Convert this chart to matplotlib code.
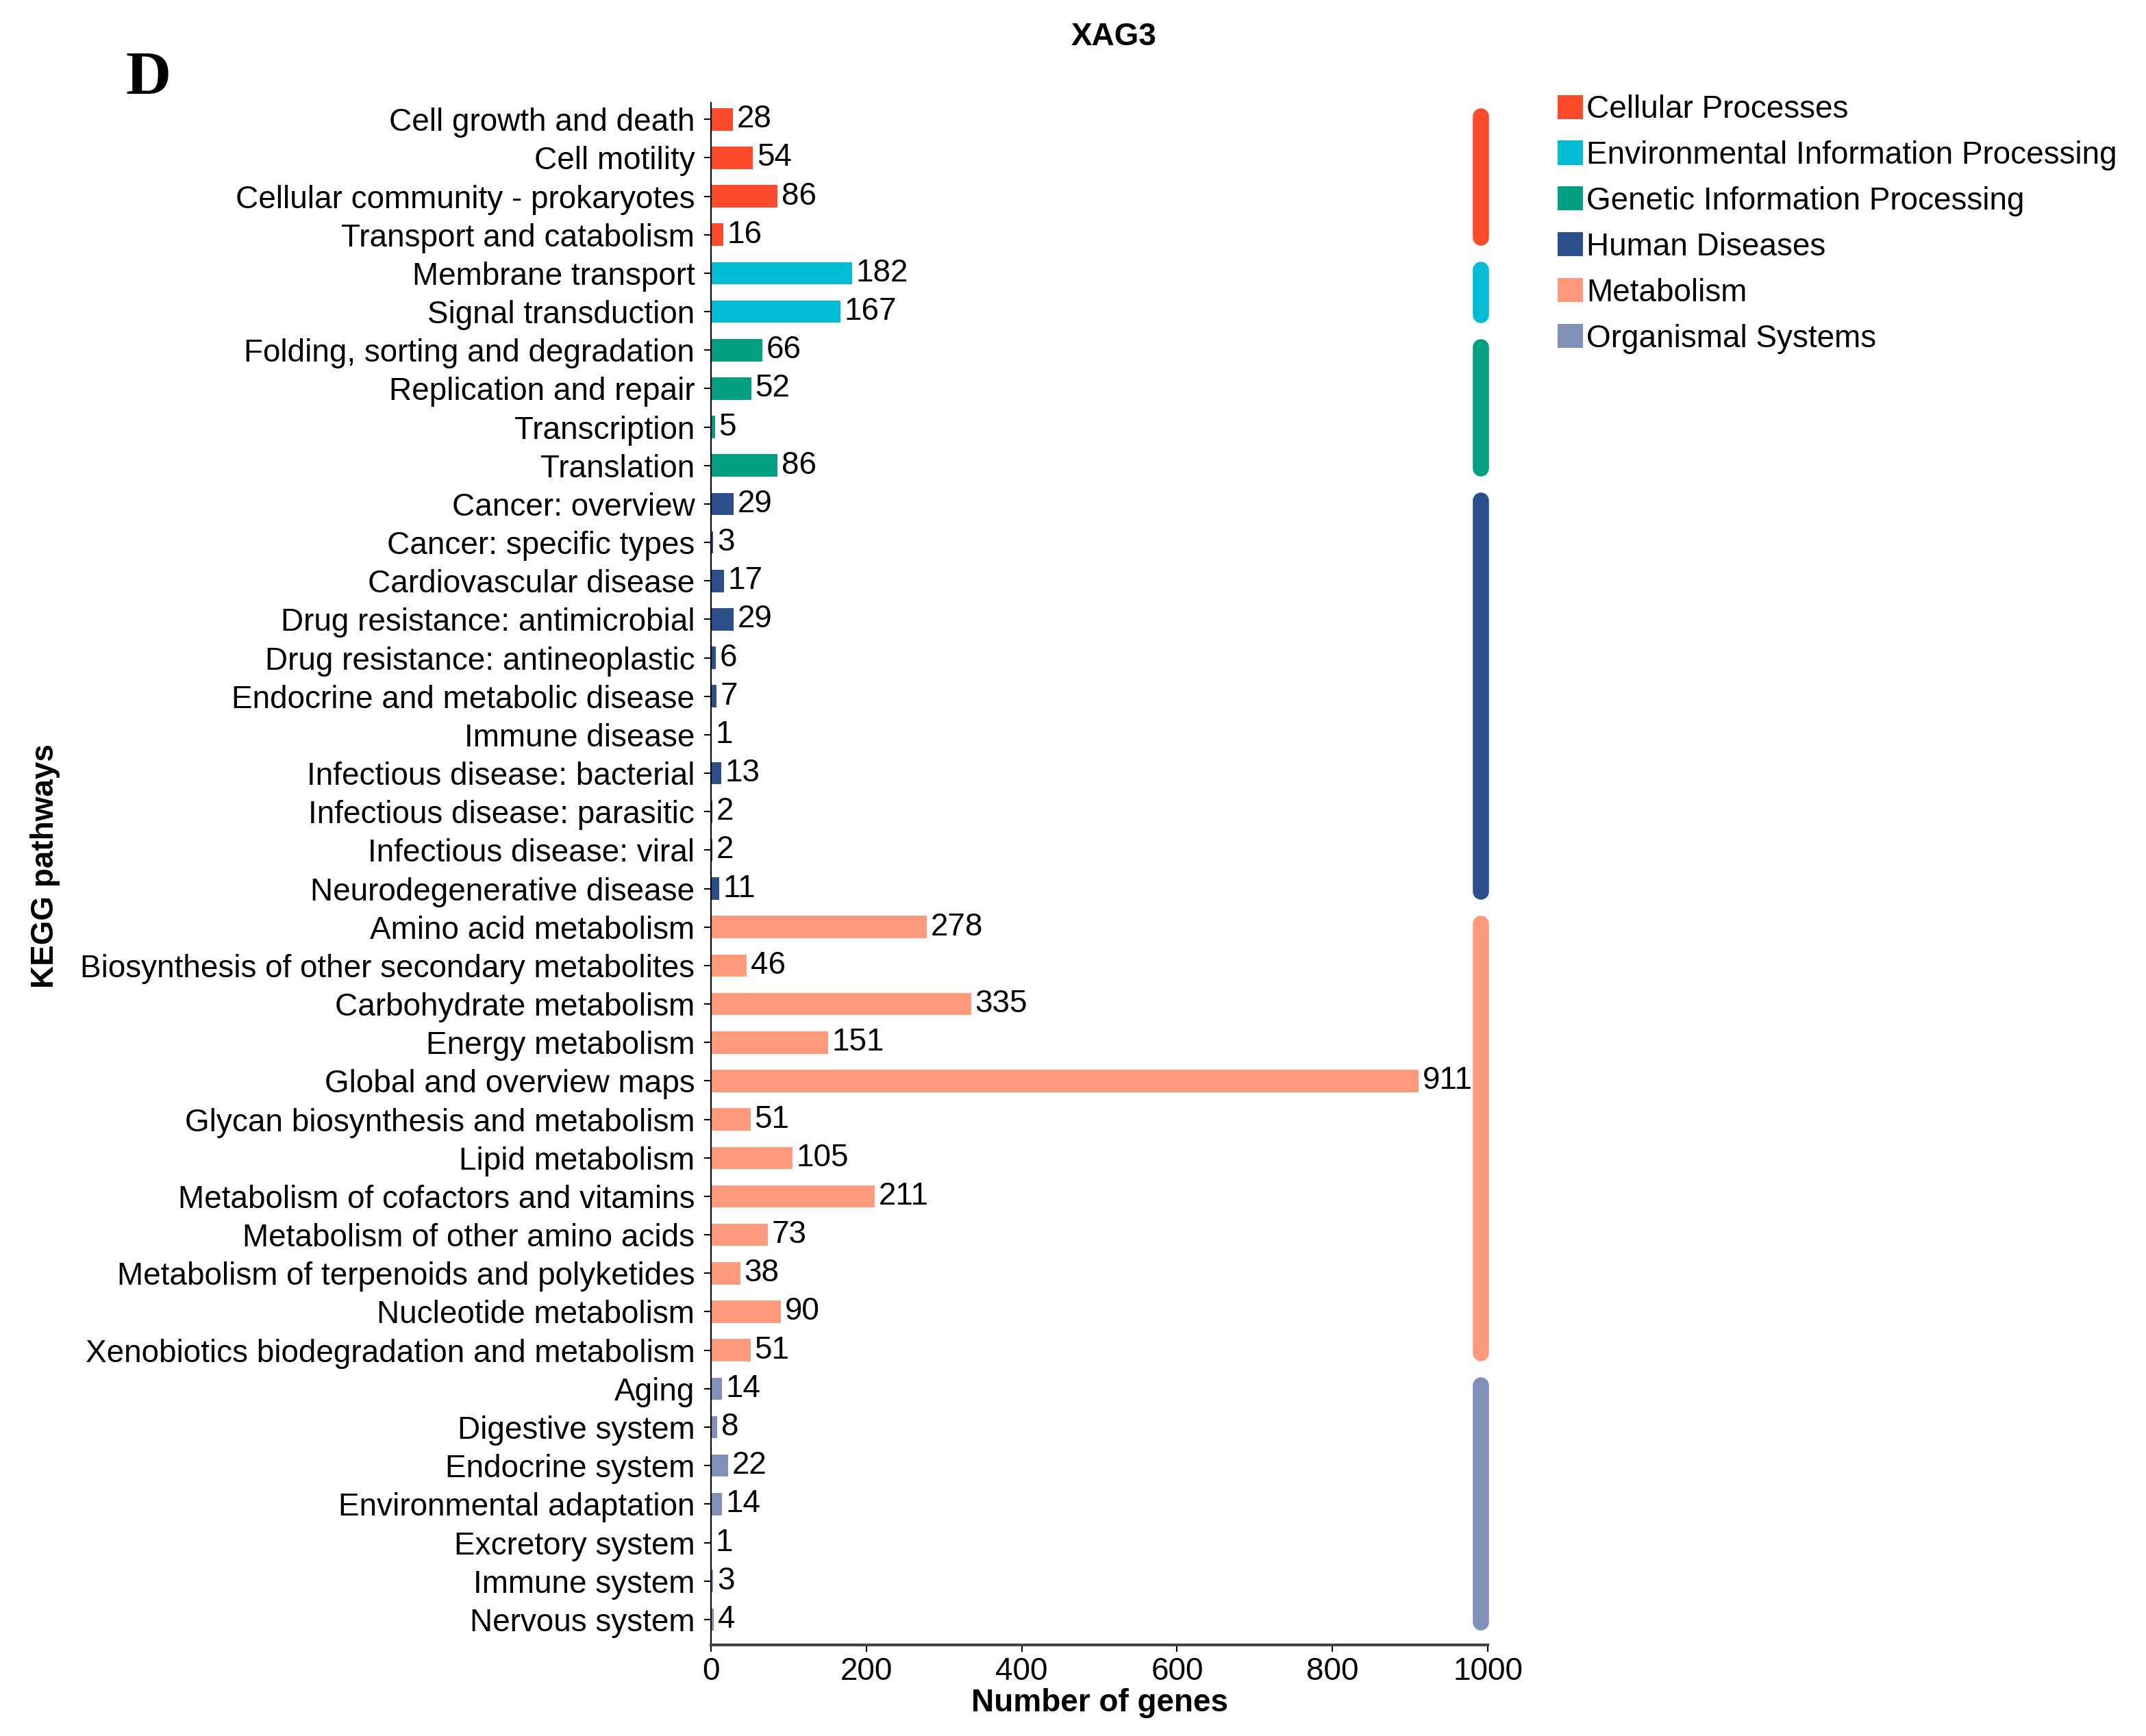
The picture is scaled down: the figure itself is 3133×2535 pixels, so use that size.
import matplotlib
matplotlib.use('Agg')
import matplotlib.pyplot as plt
from matplotlib.patches import Patch

plt.rcParams['font.family'] = ['Liberation Sans', 'DejaVu Sans']

# KEGG level-2 pathways, top to bottom
pathways = [
    'Cell growth and death', 'Cell motility', 'Cellular community - prokaryotes',
    'Transport and catabolism',
    'Membrane transport', 'Signal transduction',
    'Folding, sorting and degradation', 'Replication and repair', 'Transcription',
    'Translation',
    'Cancer: overview', 'Cancer: specific types', 'Cardiovascular disease',
    'Drug resistance: antimicrobial', 'Drug resistance: antineoplastic',
    'Endocrine and metabolic disease', 'Immune disease',
    'Infectious disease: bacterial', 'Infectious disease: parasitic',
    'Infectious disease: viral', 'Neurodegenerative disease',
    'Amino acid metabolism', 'Biosynthesis of other secondary metabolites',
    'Carbohydrate metabolism', 'Energy metabolism', 'Global and overview maps',
    'Glycan biosynthesis and metabolism', 'Lipid metabolism',
    'Metabolism of cofactors and vitamins', 'Metabolism of other amino acids',
    'Metabolism of terpenoids and polyketides', 'Nucleotide metabolism',
    'Xenobiotics biodegradation and metabolism',
    'Aging', 'Digestive system', 'Endocrine system', 'Environmental adaptation',
    'Excretory system', 'Immune system', 'Nervous system',
]
gene_counts = [
    28, 54, 86, 16,
    182, 167,
    66, 52, 5, 86,
    29, 3, 17, 29, 6, 7, 1, 13, 2, 2, 11,
    278, 46, 335, 151, 911, 51, 105, 211, 73, 38, 90, 51,
    14, 8, 22, 14, 1, 3, 4,
]
group_names = ['Cellular Processes', 'Environmental Information Processing',
               'Genetic Information Processing', 'Human Diseases',
               'Metabolism', 'Organismal Systems']
group_sizes = [4, 2, 4, 11, 12, 7]
group_colors = ['#FC4A2A', '#00BCD4', '#009F81', '#2B4F8A', '#FF9A7D', '#8090B8']

# colour of each row
row_colors = []
for size, col in zip(group_sizes, group_colors):
    row_colors += [col] * size

fig = plt.figure(figsize=(31.33, 25.35), dpi=100)
ax = fig.add_axes([0.3313, 0.0525, 0.362, 0.8883])

ypos = list(range(len(pathways)))
ax.barh(ypos, gene_counts, height=0.58, color=row_colors)

for y, v in zip(ypos, gene_counts):
    ax.annotate(str(v), (v, y), xytext=(4, 0), textcoords='offset points',
                va='center', ha='left', fontsize=33)

# group bars on the right
start = 0
for size, col in zip(group_sizes, group_colors):
    ax.plot([991, 991], [start - 0.08, start + size - 1 + 0.08], color=col,
            lw=17, solid_capstyle='round', clip_on=False)
    start += size

ax.set_xlim(0, 1000)
ax.set_ylim(39.66, -0.43)
ax.set_yticks(ypos)
ax.set_yticklabels(pathways, fontsize=33)
ax.set_xticks([0, 200, 400, 600, 800, 1000])
ax.tick_params(axis='y', length=7, width=1.5, pad=10)
ax.tick_params(axis='x', length=7, width=1.5, pad=5, labelsize=33)

ax.spines['top'].set_visible(False)
ax.spines['right'].set_visible(False)
ax.spines['left'].set_linewidth(1.5)
ax.spines['bottom'].set_linewidth(3)
ax.spines['bottom'].set_color('#444444')

ax.set_xlabel('Number of genes', fontsize=33, fontweight='bold', labelpad=2)
fig.text(66 / 3133, 0.501, 'KEGG pathways', rotation=90, fontsize=33,
         fontweight='bold', ha='center', va='center')
fig.text(1626 / 3133, 1 - 54 / 2535, 'XAG3', fontsize=33, fontweight='bold',
         ha='center', va='center')
fig.text(216 / 3133, 1 - 116 / 2535, 'D', fontsize=66, fontweight='bold',
         family='Liberation Serif', ha='center', va='center')

handles = [Patch(facecolor=c, edgecolor='none') for c in group_colors]
fig.legend(handles, group_names, loc='upper left',
           bbox_to_anchor=(2274 / 3133, 1 - 138 / 2535), frameon=False,
           fontsize=33, handlelength=0.8, handleheight=0.8,
           handletextpad=0.12, labelspacing=0.5, borderpad=0,
           borderaxespad=0)

fig.savefig('out.png', dpi=100, facecolor='white')
